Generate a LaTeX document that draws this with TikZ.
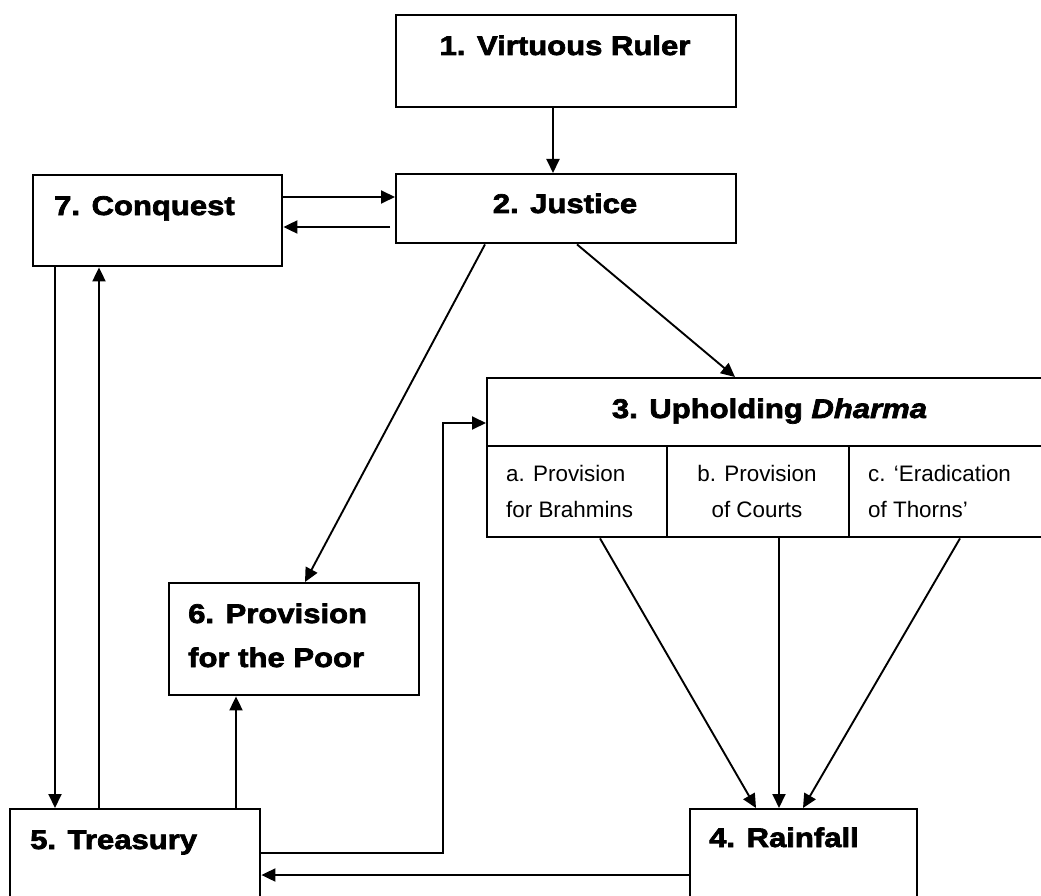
\documentclass[tikz,border=0pt]{standalone}
\usepackage{fontspec}
\setmainfont{Liberation Sans}
\newfontfamily\heavy[FakeStretch=1.15,BoldFeatures={FakeBold=2.6},BoldItalicFeatures={FakeBold=2.6}]{Liberation Sans}
\usetikzlibrary{arrows.meta}
\tikzset{
 box/.style={draw, line width=2.4pt, inner sep=0pt, anchor=north west},
 arr/.style={line width=1.9pt, -{Triangle[length=14pt,width=13pt]}},
 ttl/.style={inner sep=0pt, font=\heavy\bfseries\fontsize{27}{32}\selectfont},
 subtxt/.style={inner sep=0pt, font=\fontsize{22.4}{36}\selectfont},
}
\begin{document}
\begin{tikzpicture}[x=1pt,y=-1pt]
\useasboundingbox (0,0) rectangle (1041,896);
\clip (0,0) rectangle (1041,896);
\fill[white] (0,0) rectangle (1041,896);

% boxes
\node[box, minimum width=340pt, minimum height=92pt] (b1) at (395,14) {};
\node[box, minimum width=340pt, minimum height=69pt] (b2) at (395,173) {};
\node[box, minimum width=249pt, minimum height=91pt] (b7) at (32,174) {};
\node[box, minimum width=567pt, minimum height=68pt] (b3t) at (486,377) {};
\node[box, minimum width=180pt, minimum height=91pt] (b3a) at (486,445) {};
\node[box, minimum width=182pt, minimum height=91pt] (b3b) at (666,445) {};
\node[box, minimum width=205pt, minimum height=91pt] (b3c) at (848,445) {};
\node[box, minimum width=250pt, minimum height=112pt] (b6) at (168,582) {};
\node[box, minimum width=250pt, minimum height=89pt] (b5) at (9,808) {};
\node[box, minimum width=227pt, minimum height=89pt] (b4) at (689,808) {};

% texts
\node[ttl, anchor=base] (t1) at (565,55) {1. Virtuous Ruler};
\node[ttl, anchor=base] (t2) at (565,213) {2. Justice};
\node[ttl, anchor=base west] (t7) at (54,215) {7. Conquest};
\node[ttl, anchor=base] (t3) at (769.5,418) {3. Upholding \textit{Dharma}};
\node[subtxt, anchor=base west] (ta1) at (506,481) {a. Provision};
\node[subtxt, anchor=base west] (ta2) at (506,517) {for Brahmins};
\node[subtxt, anchor=base] (tb1) at (757,481) {b. Provision};
\node[subtxt, anchor=base] (tb2) at (757,517) {of Courts};
\node[subtxt, anchor=base west] (tc1) at (868,481) {c. ‘Eradication};
\node[subtxt, anchor=base west] (tc2) at (868,517) {of Thorns’};
\node[ttl, anchor=base west] (t6a) at (188,623) {6. Provision};
\node[ttl, anchor=base west] (t6b) at (188,667) {for the Poor};
\node[ttl, anchor=base west] (t5) at (30,849) {5. Treasury};
\node[ttl, anchor=base west] (t4) at (709,847) {4. Rainfall};

% connectors
\draw[arr] ([xshift=158pt]b1.south west) -- ([xshift=158pt]b2.north west);
\draw[arr] ([yshift=-23pt]b7.north east) -- ([yshift=-24pt]b2.north west);
\draw[arr] ([xshift=-5pt,yshift=-54pt]b2.north west) -- ([yshift=-53pt]b7.north east);
\draw[arr] ([xshift=90pt]b2.south west) -- ([xshift=137pt]b6.north west);
\draw[arr] ([xshift=182pt]b2.south west) -- ([xshift=249pt]b3t.north west);
\draw[arr] ([xshift=114pt]b3a.south west) -- ([xshift=67pt]b4.north west);
\draw[arr] ([xshift=113pt]b3b.south west) -- ([xshift=90pt]b4.north west);
\draw[arr] ([xshift=112pt]b3c.south west) -- ([xshift=114pt]b4.north west);
\draw[arr] ([yshift=-67pt]b4.north west) -- ([yshift=-67pt]b5.north east);
\draw[arr] ([yshift=-45pt]b5.north east) -- ++(182,0) |- ([yshift=-46pt]b3t.north west);
\draw[arr] ([xshift=227pt]b5.north west) -- ([xshift=68pt]b6.south west);
\draw[arr] ([xshift=23pt]b7.south west) -- ([xshift=46pt]b5.north west);
\draw[arr] ([xshift=90pt]b5.north west) -- ([xshift=67pt]b7.south west);
\end{tikzpicture}
\end{document}
